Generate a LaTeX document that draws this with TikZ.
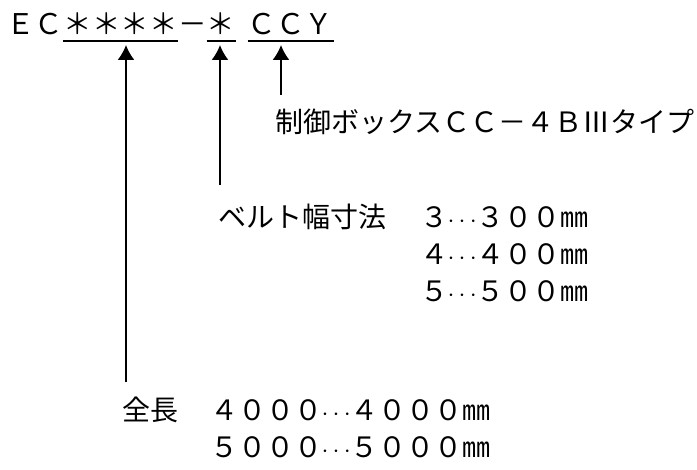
\documentclass[tikz,border=0pt]{standalone}
\usepackage{fontspec}
\setmainfont{Noto Sans CJK JP}
\usetikzlibrary{arrows.meta,calc}

\newcommand{\tdots}{\makebox[1em]{$\cdots$}}

\begin{document}
\begin{tikzpicture}[x=1pt,y=-1pt,
    code/.style={inner sep=0pt,anchor=base west,font=\fontsize{28.5}{30}\selectfont},
    lbl/.style={inner sep=0pt,anchor=base west,font=\fontsize{28}{30}\selectfont},
    uline/.style={line width=2pt},
    pointer/.style={line width=1.8pt,-{Latex[length=15pt,width=17pt]}}]
    \useasboundingbox (0,0) rectangle (697,470);
    % Model code
    \node[code] (ec) at (6,35) {ＥＣ};
    \node[code] (len) at (ec.base east) {＊＊＊＊};
    \node[code] (dash) at (len.base east) {－};
    \node[code] (wid) at (dash.base east) {＊};
    \node[code] (box) at ([xshift=12pt]wid.base east) {ＣＣＹ};
    \draw[uline] ([yshift=-6pt]len.base west) -- ([yshift=-6pt]len.base east);
    \draw[uline] ([yshift=-6pt]wid.base west) -- ([yshift=-6pt]wid.base east);
    \draw[uline] ([yshift=-6pt]box.base west) -- ([yshift=-6pt]box.base east);

    % Labels
    \node[lbl] (boxlbl) at (275,133) {制御ボックスＣＣ－４ＢⅢタイプ};
    \node[lbl] (widlbl) at (218,228) {ベルト幅寸法};
    \node[lbl] (wid3) at (420,228) {３\tdots３００㎜};
    \node[lbl] (wid4) at (420,265) {４\tdots４００㎜};
    \node[lbl] (wid5) at (420,302) {５\tdots５００㎜};
    \node[lbl] (lenlbl) at (122,421) {全長};
    \node[lbl] (len4) at (210,421) {４０００\tdots４０００㎜};
    \node[lbl] (len5) at (210,458) {５０００\tdots５０００㎜};

    % Arrows
    \coordinate (lenfoot) at (126,382);
    \coordinate (widfoot) at (220,185);
    \coordinate (boxfoot) at (281,95);
    \draw[pointer] (lenfoot) -- ($(lenfoot |- len.base)+(0,10)$);
    \draw[pointer] (widfoot) -- ($(widfoot |- wid.base)+(0,10)$);
    \draw[pointer] (boxfoot) -- ($(boxfoot |- box.base)+(0,10)$);
\end{tikzpicture}
\end{document}
